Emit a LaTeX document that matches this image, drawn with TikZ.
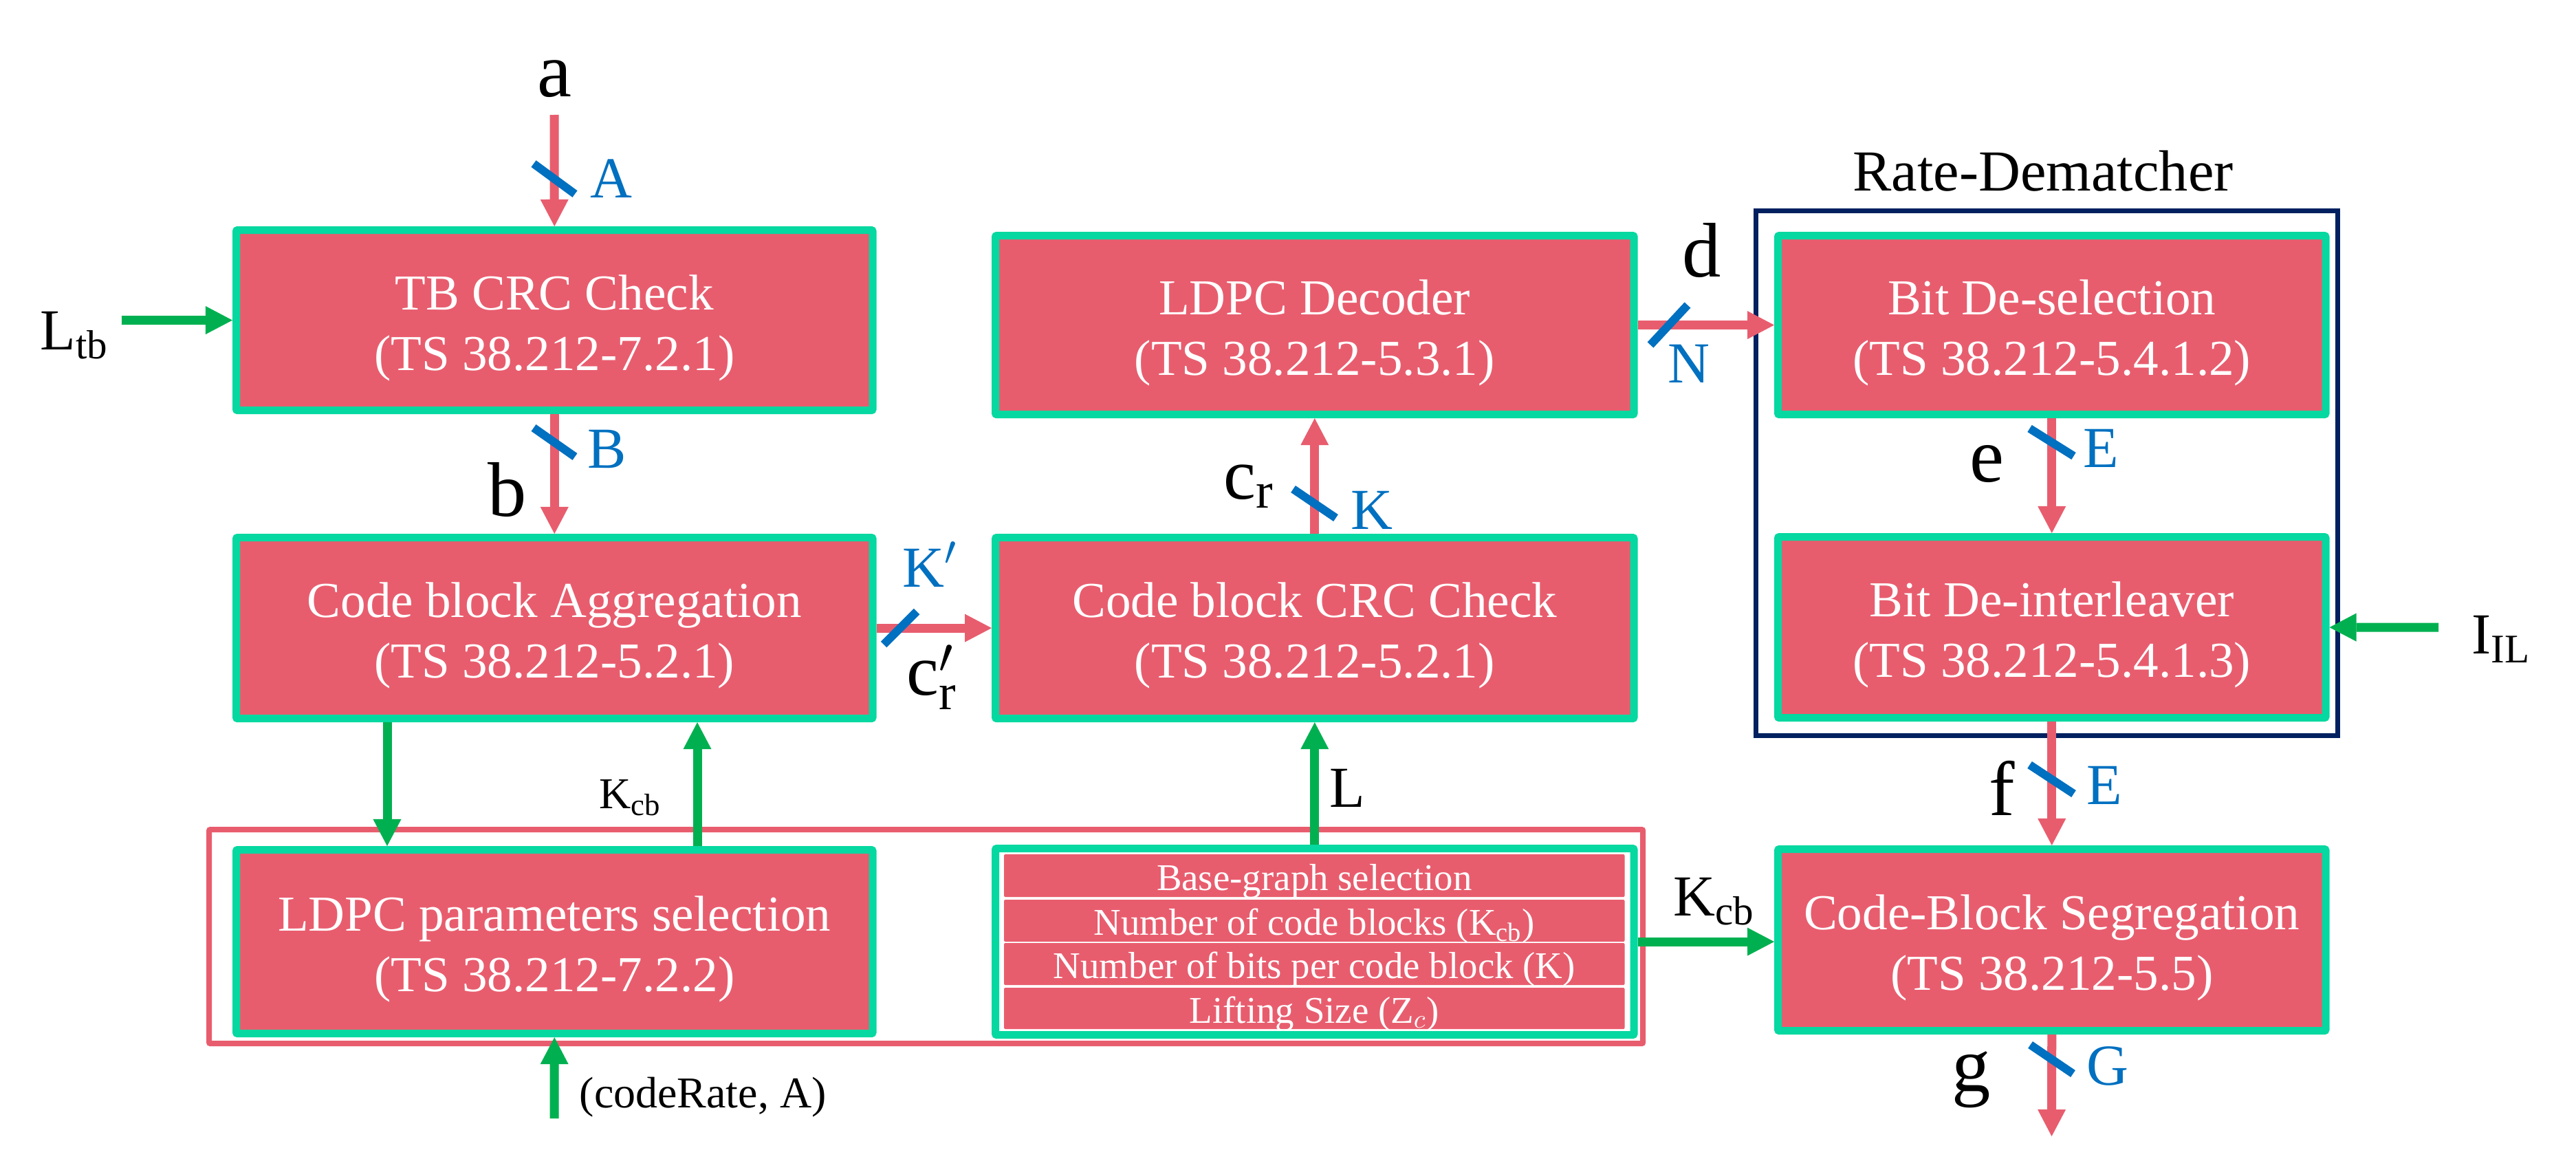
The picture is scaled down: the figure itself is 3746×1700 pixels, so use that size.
\documentclass[tikz,border=0pt]{standalone}
\usepackage{fontspec}
\setmainfont{Liberation Serif}
\usetikzlibrary{arrows.meta}
\definecolor{boxred}{HTML}{E85D6E}
\definecolor{boxgreen}{HTML}{05D8A0}
\definecolor{arrgreen}{HTML}{00B050}
\definecolor{lblue}{HTML}{0070C0}
\definecolor{navy}{HTML}{002060}
\newcommand\myfs[2]{\fontsize{#1}{#2}\selectfont}
\begin{document}
\begin{tikzpicture}[x=0.01cm,y=-0.01cm,
  blk/.style={draw=boxgreen, fill=boxred, line width=0.11cm, rounded corners=0.02cm,
    inner sep=0pt, outer sep=0.055cm, anchor=north west},
  btxt/.style={text=white, align=center, font=\myfs{20.8}{25}, inner sep=0pt},
  sub/.style={fill=boxred, rounded corners=0.02cm, inner sep=0pt, outer sep=0pt,
    anchor=north west, minimum width=9.02cm, text=white, font=\myfs{15.6}{19},
    text height=0.42cm, text depth=0pt},
  rarrow/.style={draw=boxred, line width=0.13cm,
    -{Triangle[length=0.39cm,width=0.41cm,line width=0pt]}},
  garrow/.style={draw=arrgreen, line width=0.13cm,
    -{Triangle[length=0.39cm,width=0.41cm,line width=0pt]}},
  slash/.style={draw=lblue, line width=0.12cm},
  big/.style={font=\myfs{32}{38}, inner sep=0pt},
  mid/.style={font=\myfs{24}{29}, inner sep=0pt},
  blu/.style={mid, text=lblue},
  sml/.style={font=\myfs{18.2}{22}, inner sep=0pt}
]
\useasboundingbox (0,0) rectangle (3746,1700);
\fill[white] (0,0) rectangle (3746,1700);

% group frames
\node[draw=boxred, line width=0.08cm, rounded corners=0.02cm, inner sep=0pt, outer sep=0pt,
  anchor=north west, minimum width=20.84cm, minimum height=3.11cm] (grp) at (304,1206) {};
\node[draw=navy, line width=0.07cm, inner sep=0pt, outer sep=0pt,
  anchor=north west, minimum width=8.45cm, minimum height=7.63cm] (rdm) at (2553.5,306.5) {};
\node[mid, anchor=base] (rdmlbl) at (2971,277) {Rate-Dematcher};

% blocks
\node[blk, minimum width=9.25cm, minimum height=2.62cm] (tb)  at (338,329) {};
\node[blk, minimum width=9.25cm, minimum height=2.63cm] (agg) at (338,776) {};
\node[blk, minimum width=9.25cm, minimum height=2.67cm] (sel) at (338,1230) {};
\node[blk, minimum width=9.28cm, minimum height=2.60cm] (dec) at (1442,337) {};
\node[blk, minimum width=9.28cm, minimum height=2.63cm] (crc) at (1442,776) {};
\node[blk, fill=white, minimum width=9.28cm, minimum height=2.71cm] (par) at (1442,1228) {};
\node[blk, minimum width=7.96cm, minimum height=2.60cm] (bds) at (2580,337) {};
\node[blk, minimum width=7.96cm, minimum height=2.63cm] (bdi) at (2580,775) {};
\node[blk, minimum width=7.96cm, minimum height=2.64cm] (seg) at (2580,1229) {};

\node[btxt] (tbt)  at ([yshift=-0.11cm]tb.center)  {TB CRC Check\\(TS 38.212-7.2.1)};
\node[btxt] (aggt) at ([yshift=-0.11cm]agg.center) {Code block Aggregation\\(TS 38.212-5.2.1)};
\node[btxt] (selt) at ([yshift=-0.11cm]sel.center) {LDPC parameters selection\\(TS 38.212-7.2.2)};
\node[btxt] (dect) at ([yshift=-0.11cm]dec.center) {LDPC Decoder\\(TS 38.212-5.3.1)};
\node[btxt] (crct) at ([yshift=-0.11cm]crc.center) {Code block CRC Check\\(TS 38.212-5.2.1)};
\node[btxt] (bdst) at ([yshift=-0.11cm]bds.center) {Bit De-selection\\(TS 38.212-5.4.1.2)};
\node[btxt] (bdit) at ([yshift=-0.11cm]bdi.center) {Bit De-interleaver\\(TS 38.212-5.4.1.3)};
\node[btxt] (segt) at ([yshift=-0.11cm]seg.center) {Code-Block Segregation\\(TS 38.212-5.5)};

% parameter rows
\node[sub, minimum height=0.62cm] (p1) at (1460,1242) {Base-graph selection};
\node[sub, minimum height=0.61cm] (p2) at (1460,1308) {Number of code blocks (K$_{\mathrm{cb}}$)};
\node[sub, minimum height=0.61cm] (p3) at (1460,1371) {Number of bits per code block (K)};
\node[sub, minimum height=0.60cm] (p4) at (1460,1436) {Lifting Size (Z$_{c}$)};

% free ends
\coordinate (aTop) at (806,167);
\coordinate (gEnd) at (2983.5,1652);
\coordinate (ltbS) at (177,465.5);
\coordinate (ilS)  at (3546,912);
\coordinate (crS)  at (806,1626);
\coordinate (xL) at (563,0);
\coordinate (xR) at (1014,0);

% red data flow
\draw[rarrow] (aTop) -- (tb.north);
\draw[rarrow] (tb.south) -- (agg.north);
\draw[rarrow] (agg.east) -- (crc.west);
\draw[rarrow] (crc.north) -- (dec.south);
\draw[rarrow] (dec.east) -- (bds.west);
\draw[rarrow] (bds.south) -- (bdi.north);
\draw[rarrow] (bdi.south) -- (seg.north);
\draw[rarrow] (seg.south) -- (gEnd);

% green control flow
\draw[garrow] (ltbS) -- (tb.west);
\draw[garrow] (ilS) -- (bdi.east);
\draw[garrow] (par.east) -- (par.east -| seg.west);
\draw[garrow] (agg.south -| xL) -- (sel.north -| xL);
\draw[garrow] (sel.north -| xR) -- (agg.south -| xR);
\draw[garrow] (par.north) -- (crc.south);
\draw[garrow] (crS) -- (sel.south);

% bus-width slashes
\coordinate (sA) at (806,260);
\coordinate (sB) at (806,643);
\coordinate (sK) at (1911.5,732);
\coordinate (sE1) at (2983.5,643);
\coordinate (sE2) at (2983.5,1133);
\coordinate (sG) at (2983.5,1540);
\coordinate (sN) at (2427,472.5);
\coordinate (sKp) at (1309,913);
\draw[slash] (sA) ++(-30,-22) -- ++(60,44);
\draw[slash] (sB) ++(-30,-21) -- ++(60,42);
\draw[slash] (sK) ++(-31,-21) -- ++(62,42);
\draw[slash] (sE1) ++(-32,-20) -- ++(64,40);
\draw[slash] (sE2) ++(-32,-21) -- ++(64,42);
\draw[slash] (sG) ++(-31,-21) -- ++(62,42);
\draw[slash] (sN) ++(-27,29) -- ++(54,-58);
\draw[slash] (sKp) ++(-24,24) -- ++(48,-48);

% labels
\node[big, anchor=base] (la) at (806,140) {a};
\node[blu, anchor=base west] (lA) at (858,287) {A};
\node[mid, anchor=base west] (lLtb) at (58,508) {$\mathrm{L}_{\mathrm{tb}}$};
\node[blu, anchor=base west] (lB) at (854,680) {B};
\node[big, anchor=base] (lb) at (738,750) {b};
\node[blu, anchor=base west] (lKp) at (1312,853) {$\mathrm{K}'$};
\node[font=\myfs{30}{36}, inner sep=0pt, anchor=base west] (lcrp) at (1318,1010) {c$^{\prime}_{\mathrm{r}}$};
\node[font=\myfs{30}{36}, inner sep=0pt, anchor=base west] (lcr) at (1779,725) {c$_{\mathrm{r}}$};
\node[blu, anchor=base west] (lK) at (1964,769) {K};
\node[mid, anchor=base west] (lL) at (1933,1173) {L};
\node[big, anchor=base] (ld) at (2475,402) {d};
\node[blu, anchor=base west] (lN) at (2425,556) {N};
\node[big, anchor=base] (le) at (2889,700) {e};
\node[blu, anchor=base west] (lE1) at (3029,679) {E};
\node[mid, anchor=base west] (lIL) at (3594,950) {$\mathrm{I}_{\mathrm{IL}}$};
\node[big, anchor=base] (lf) at (2911,1185) {f};
\node[blu, anchor=base west] (lE2) at (3034,1169) {E};
\node[mid, anchor=base west] (lKcb2) at (2433,1331) {$\mathrm{K}_{\mathrm{cb}}$};
\node[sml, anchor=base west] (lKcb1) at (871,1175) {$\mathrm{K}_{\mathrm{cb}}$};
\node[sml, anchor=base west] (lcode) at (842,1610) {(codeRate, A)};
\node[big, anchor=base] (lg) at (2867,1586) {g};
\node[blu, anchor=base west] (lG) at (3034,1577) {G};
\end{tikzpicture}
\end{document}
